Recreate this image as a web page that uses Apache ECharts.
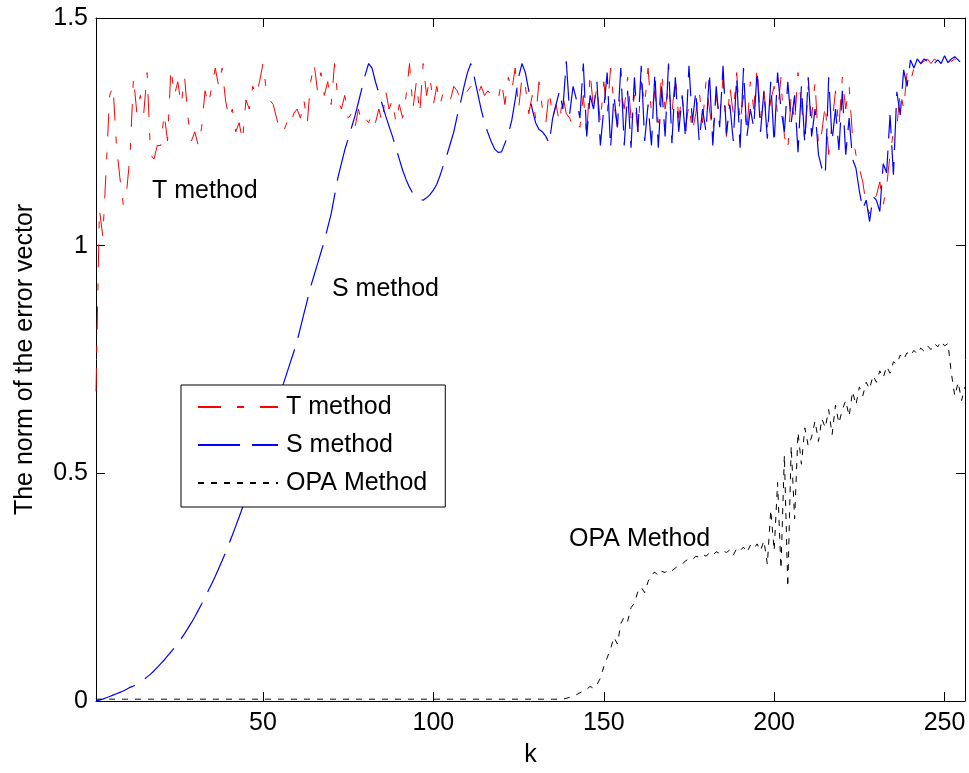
<!DOCTYPE html>
<html lang="en">
<head>
    <meta charset="UTF-8">
    <title>error vector norm</title>
    <style>
        html, body { margin: 0; padding: 0; background: #fff; }
        #main { width: 969px; height: 773px; }
    </style>
</head>
<body>
<div id="main"></div>
<script src="https://cdn.jsdelivr.net/npm/echarts@6/dist/echarts.min.js"></script>
<script>
    // values, index k = 1..256
    var xTicks = [50, 100, 150, 200, 250];

    var tMethod = [
        0.68, 1.08, 1.02, 1.17, 1.33, 1.35, 1.22, 1.15, 1.09, 1.12,
        1.20, 1.37, 1.29, 1.33, 1.29, 1.38, 1.20, 1.19, 1.22, 1.22,
        1.29, 1.23, 1.39, 1.33, 1.36, 1.31, 1.37, 1.28, 1.23, 1.25,
        1.22, 1.26, 1.34, 1.31, 1.35, 1.39, 1.35, 1.39, 1.32, 1.28,
        1.30, 1.25, 1.27, 1.23, 1.32, 1.30, 1.35, 1.33, 1.36, 1.40,
        1.34, 1.32, 1.31, 1.28, 1.25, 1.25, 1.27, 1.26, 1.29, 1.30,
        1.28, 1.32, 1.27, 1.36, 1.40, 1.34, 1.38, 1.33, 1.36, 1.31,
        1.40, 1.32, 1.30, 1.33, 1.28, 1.29, 1.26, 1.30, 1.27, 1.28,
        1.27, 1.29, 1.27, 1.30, 1.27, 1.34, 1.30, 1.32, 1.27, 1.31,
        1.28, 1.33, 1.40, 1.30, 1.36, 1.29, 1.40, 1.33, 1.37, 1.31,
        1.35, 1.31, 1.34, 1.33, 1.32, 1.35, 1.34, 1.32, 1.33, 1.34,
        1.35, 1.34, 1.33, 1.35, 1.33, 1.34, 1.33, 1.33, 1.32, 1.36,
        1.31, 1.37, 1.34, 1.39, 1.30, 1.37, 1.35, 1.29, 1.33, 1.28,
        1.36, 1.30, 1.27, 1.34, 1.28, 1.31, 1.27, 1.33, 1.29, 1.28,
        1.26, 1.27, 1.26, 1.33, 1.24, 1.38, 1.30, 1.35, 1.27, 1.36,
        1.29, 1.39, 1.31, 1.26, 1.34, 1.30, 1.37, 1.28, 1.33, 1.25,
        1.36, 1.31, 1.39, 1.29, 1.34, 1.27, 1.38, 1.30, 1.35, 1.29,
        1.37, 1.28, 1.33, 1.26, 1.31, 1.25, 1.29, 1.34, 1.27, 1.36,
        1.30, 1.25, 1.33, 1.28, 1.37, 1.24, 1.35, 1.29, 1.38, 1.27,
        1.33, 1.25, 1.36, 1.30, 1.39, 1.28, 1.34, 1.26, 1.32, 1.35,
        1.29, 1.37, 1.24, 1.21, 1.33, 1.27, 1.38, 1.31, 1.23, 1.35,
        1.28, 1.36, 1.22, 1.25, 1.31, 1.20, 1.27, 1.34, 1.26, 1.37,
        1.30, 1.35, 1.24, 1.20, 1.17, 1.14, 1.09, 1.07, 1.10, 1.11,
        1.14, 1.09, 1.13, 1.20, 1.25, 1.26, 1.34, 1.30, 1.38, 1.36,
        1.39, 1.38, 1.40, 1.405, 1.41, 1.40, 1.41, 1.405, 1.41, 1.415,
        1.41, 1.405, 1.41, 1.405, 1.40, 1.39
    ];

    var sMethod = [
        0.000, 0.002, 0.004, 0.007, 0.010, 0.013, 0.016, 0.019, 0.022, 0.026,
        0.030, 0.033, 0.037, 0.042, 0.047, 0.053, 0.059, 0.066, 0.074, 0.082,
        0.090, 0.099, 0.108, 0.117, 0.127, 0.137, 0.148, 0.160, 0.172, 0.185,
        0.199, 0.213, 0.228, 0.243, 0.258, 0.274, 0.291, 0.308, 0.326, 0.345,
        0.364, 0.384, 0.404, 0.425, 0.447, 0.470, 0.494, 0.518, 0.543, 0.568,
        0.590, 0.612, 0.634, 0.655, 0.676, 0.697, 0.720, 0.743, 0.766, 0.790,
        0.820, 0.850, 0.880, 0.910, 0.935, 0.960, 0.985, 1.010, 1.040, 1.070,
        1.110, 1.150, 1.180, 1.210, 1.235, 1.260, 1.285, 1.315, 1.345, 1.375,
        1.400, 1.390, 1.360, 1.335, 1.310, 1.285, 1.262, 1.240, 1.215, 1.190,
        1.165, 1.145, 1.128, 1.115, 1.107, 1.102, 1.100, 1.105, 1.112, 1.122,
        1.135, 1.155, 1.178, 1.200, 1.225, 1.250, 1.285, 1.315, 1.350, 1.380,
        1.400, 1.370, 1.335, 1.300, 1.270, 1.248, 1.228, 1.212, 1.205, 1.206,
        1.225, 1.245, 1.275, 1.320, 1.370, 1.400, 1.380, 1.340, 1.300, 1.270,
        1.255, 1.250, 1.240, 1.225, 1.280, 1.310, 1.340, 1.300, 1.405, 1.290,
        1.350, 1.320, 1.280, 1.400, 1.240, 1.330, 1.300, 1.360, 1.220, 1.300,
        1.380, 1.215, 1.330, 1.260, 1.390, 1.220, 1.340, 1.215, 1.370, 1.250,
        1.395, 1.230, 1.310, 1.220, 1.380, 1.215, 1.350, 1.240, 1.400, 1.225,
        1.370, 1.250, 1.330, 1.235, 1.395, 1.270, 1.340, 1.230, 1.300, 1.250,
        1.380, 1.220, 1.350, 1.260, 1.395, 1.245, 1.310, 1.230, 1.370, 1.215,
        1.390, 1.240, 1.300, 1.260, 1.385, 1.250, 1.340, 1.235, 1.360, 1.225,
        1.380, 1.300, 1.250, 1.360, 1.270, 1.330, 1.205, 1.350, 1.225, 1.370,
        1.240, 1.300, 1.200, 1.170, 1.155, 1.370, 1.230, 1.300, 1.210, 1.340,
        1.200, 1.280, 1.190, 1.170, 1.120, 1.080, 1.100, 1.053, 1.108, 1.100,
        1.075, 1.180, 1.160, 1.287, 1.156, 1.338, 1.287, 1.386, 1.350, 1.408,
        1.390, 1.410, 1.400, 1.410, 1.405, 1.412, 1.400, 1.408, 1.400, 1.417,
        1.402, 1.410, 1.415, 1.408, 1.400, 1.393
    ];

    var opaMethod = [
        0.004, 0.004, 0.004, 0.004, 0.004, 0.004, 0.004, 0.004, 0.004, 0.004,
        0.004, 0.004, 0.004, 0.004, 0.004, 0.004, 0.004, 0.004, 0.004, 0.004,
        0.004, 0.004, 0.004, 0.004, 0.004, 0.004, 0.004, 0.004, 0.004, 0.004,
        0.004, 0.004, 0.004, 0.004, 0.004, 0.004, 0.004, 0.004, 0.004, 0.004,
        0.004, 0.004, 0.004, 0.004, 0.004, 0.004, 0.004, 0.004, 0.004, 0.004,
        0.004, 0.004, 0.004, 0.004, 0.004, 0.004, 0.004, 0.004, 0.004, 0.004,
        0.004, 0.004, 0.004, 0.004, 0.004, 0.004, 0.004, 0.004, 0.004, 0.004,
        0.004, 0.004, 0.004, 0.004, 0.004, 0.004, 0.004, 0.004, 0.004, 0.004,
        0.004, 0.004, 0.004, 0.004, 0.004, 0.004, 0.004, 0.004, 0.004, 0.004,
        0.004, 0.004, 0.004, 0.004, 0.004, 0.004, 0.004, 0.004, 0.004, 0.004,
        0.004, 0.004, 0.004, 0.004, 0.004, 0.004, 0.004, 0.004, 0.004, 0.004,
        0.004, 0.004, 0.004, 0.004, 0.004, 0.004, 0.004, 0.004, 0.004, 0.004,
        0.004, 0.004, 0.004, 0.004, 0.004, 0.004, 0.004, 0.004, 0.004, 0.004,
        0.004, 0.004, 0.004, 0.004, 0.004, 0.004, 0.004, 0.004,
        0.006, 0.008,
        0.010, 0.014, 0.018, 0.022, 0.026, 0.032, 0.028, 0.036, 0.050, 0.075,
        0.095, 0.115, 0.140, 0.125, 0.170, 0.185, 0.175, 0.205, 0.215, 0.240,
        0.250, 0.238, 0.262, 0.278, 0.283, 0.275, 0.285, 0.282, 0.290, 0.286,
        0.292, 0.298, 0.300, 0.308, 0.312, 0.310, 0.318, 0.316, 0.322, 0.318,
        0.325, 0.320, 0.328, 0.324, 0.330, 0.326, 0.332, 0.320, 0.335, 0.330,
        0.338, 0.326, 0.342, 0.334, 0.345, 0.330, 0.352, 0.300, 0.420, 0.330,
        0.480, 0.290, 0.540, 0.250, 0.560, 0.400, 0.590, 0.520, 0.600, 0.560,
        0.580, 0.615, 0.570, 0.620, 0.600, 0.640, 0.585, 0.650, 0.610, 0.640,
        0.660, 0.625, 0.680, 0.650, 0.690, 0.670, 0.700, 0.685, 0.715, 0.700,
        0.725, 0.710, 0.735, 0.720, 0.745, 0.740, 0.760, 0.750, 0.765, 0.758,
        0.770, 0.762, 0.775, 0.768, 0.780, 0.772, 0.785, 0.778, 0.790, 0.780,
        0.785, 0.720, 0.670, 0.700, 0.660, 0.690
    ];

    function toPairs(arr) {
        return arr.map(function (v, i) { return [i + 1, v]; });
    }

    var font = 'Liberation Sans, Arial, sans-serif';
    var fs = 25;

    var tickX = {
        show: true, inside: true, length: 9,
        customValues: xTicks,
        lineStyle: { color: '#000', width: 1 }
    };
    var tickY = {
        show: true, inside: true, length: 9,
        lineStyle: { color: '#000', width: 1 }
    };
    var line = { show: true, onZero: false, lineStyle: { color: '#000', width: 1 } };

    var option = {
        animation: false,
        backgroundColor: '#fff',
        textStyle: { fontFamily: font },
        grid: { left: 96, right: 4, top: 18, bottom: 71 },
        legend: {
            orient: 'vertical',
            left: 181,
            top: 385,
            padding: [8, 18, 10, 16],
            itemGap: 10,
            itemWidth: 80,
            itemHeight: 14,
            borderColor: '#000',
            borderWidth: 1,
            backgroundColor: '#fff',
            // no marker dot on the legend lines
            itemStyle: { opacity: 0 },
            textStyle: { fontFamily: font, fontSize: fs, color: '#000', lineHeight: 28, padding: [0, 0, 0, 3] },
            data: ['T method', 'S method', 'OPA Method']
        },
        xAxis: [{
            type: 'value', min: 1, max: 256, position: 'bottom',
            name: 'k', nameLocation: 'middle', nameGap: 42,
            nameTextStyle: { fontFamily: font, fontSize: fs, color: '#000' },
            axisLine: line, axisTick: tickX,
            axisLabel: { customValues: xTicks, margin: 10, fontFamily: font, fontSize: fs, color: '#000' },
            splitLine: { show: false }
        }, {
            type: 'value', min: 1, max: 256, position: 'top',
            axisLine: line, axisTick: tickX,
            axisLabel: { show: false },
            splitLine: { show: false }
        }],
        yAxis: [{
            type: 'value', min: 0, max: 1.5, interval: 0.5, position: 'left',
            name: 'The norm of the error vector', nameLocation: 'middle', nameGap: 58, nameRotate: 90,
            nameTextStyle: { fontFamily: font, fontSize: fs, color: '#000' },
            axisLine: line, axisTick: tickY,
            axisLabel: { margin: 8, fontFamily: font, fontSize: fs, color: '#000' },
            splitLine: { show: false }
        }, {
            type: 'value', min: 0, max: 1.5, interval: 0.5, position: 'right',
            axisLine: line, axisTick: tickY,
            axisLabel: { show: false },
            splitLine: { show: false }
        }],
        graphic: [
            { type: 'text', x: 152, y: 191, style: { text: 'T method', font: fs + 'px ' + font, fill: '#000', verticalAlign: 'middle' } },
            { type: 'text', x: 332, y: 289, style: { text: 'S method', font: fs + 'px ' + font, fill: '#000', verticalAlign: 'middle' } },
            { type: 'text', x: 569, y: 539, style: { text: 'OPA Method', font: fs + 'px ' + font, fill: '#000', verticalAlign: 'middle' } }
        ],
        series: [{
            name: 'T method', type: 'line', symbol: 'none',
            color: '#ff0000',
            lineStyle: { color: '#ff0000', width: 1, type: [23, 16, 7, 16] },
            data: toPairs(tMethod)
        }, {
            name: 'S method', type: 'line', symbol: 'none',
            color: '#0000ff',
            lineStyle: { color: '#0000ff', width: 1.2, type: [42, 12] },
            data: toPairs(sMethod)
        }, {
            name: 'OPA Method', type: 'line', symbol: 'none',
            color: '#000000',
            lineStyle: { color: '#000000', width: 1, type: [6, 7] },
            data: toPairs(opaMethod)
        }]
    };

    var myChart = echarts.init(document.getElementById('main'));
    myChart.setOption(option);
</script>
</body>
</html>
